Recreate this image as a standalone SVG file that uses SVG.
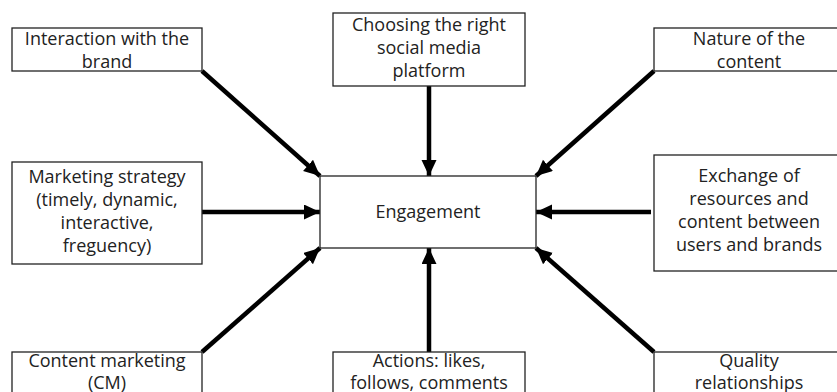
<svg xmlns="http://www.w3.org/2000/svg" width="837" height="392" viewBox="0 0 837 392">
<defs>
<style>
.box{fill:#fff;stroke:#222;stroke-width:1.3}
.t{font-family:"Open Sans","Liberation Sans",sans-serif;font-size:18px;fill:#222;text-anchor:middle}
.c{stroke:#000;stroke-width:4.5;fill:none;marker-end:url(#ah)}
</style>
<marker id="ah" markerUnits="userSpaceOnUse" markerWidth="18" markerHeight="16" refX="16" refY="7.5" orient="auto" viewBox="0 0 18 16">
<path d="M0,0 L16,7.5 L0,15 z" fill="#000"/>
</marker>
</defs>
<rect width="837" height="392" fill="#fff"/>
<g id="connectors">
<line class="c" x1="202" y1="71" x2="320" y2="176"/>
<line class="c" x1="429" y1="86" x2="429" y2="176"/>
<line class="c" x1="654" y1="71" x2="536" y2="176"/>
<line class="c" x1="202" y1="212" x2="320" y2="212"/>
<line class="c" x1="651" y1="212" x2="536" y2="212"/>
<line class="c" x1="202" y1="352" x2="320" y2="248"/>
<line class="c" x1="429" y1="352" x2="429" y2="248"/>
<line class="c" x1="654" y1="352" x2="536" y2="248"/>
</g>
<g id="engagement">
<rect class="box" x="320" y="176" width="216" height="72"/>
<text class="t" x="428" y="218">Engagement</text>
</g>
<g id="interaction">
<rect class="box" x="12" y="28" width="190" height="43"/>
<text class="t" x="107" y="45">Interaction with the</text>
<text class="t" x="107" y="68">brand</text>
</g>
<g id="choosing">
<rect class="box" x="333" y="13" width="192" height="73"/>
<text class="t" x="429" y="31">Choosing the right</text>
<text class="t" x="429" y="54">social media</text>
<text class="t" x="429" y="77">platform</text>
</g>
<g id="nature">
<rect class="box" x="654" y="28" width="190" height="43"/>
<text class="t" x="749" y="45">Nature of the</text>
<text class="t" x="749" y="68">content</text>
</g>
<g id="marketing">
<rect class="box" x="12" y="162" width="190" height="102"/>
<text class="t" x="107" y="183">Marketing strategy</text>
<text class="t" x="107" y="206">(timely, dynamic,</text>
<text class="t" x="107" y="229">interactive,</text>
<text class="t" x="107" y="252">freguency)</text>
</g>
<g id="exchange">
<rect class="box" x="654" y="155" width="190" height="116"/>
<text class="t" x="749" y="182">Exchange of</text>
<text class="t" x="749" y="205">resources and</text>
<text class="t" x="749" y="228">content between</text>
<text class="t" x="749" y="251">users and brands</text>
</g>
<g id="content-marketing">
<rect class="box" x="12" y="352" width="190" height="60"/>
<text class="t" x="107" y="367">Content marketing</text>
<text class="t" x="107" y="389">(CM)</text>
</g>
<g id="actions">
<rect class="box" x="333" y="352" width="192" height="60"/>
<text class="t" x="429" y="367">Actions: likes,</text>
<text class="t" x="429" y="389">follows, comments</text>
</g>
<g id="quality">
<rect class="box" x="654" y="352" width="190" height="60"/>
<text class="t" x="749" y="367">Quality</text>
<text class="t" x="749" y="389">relationships</text>
</g>
</svg>
